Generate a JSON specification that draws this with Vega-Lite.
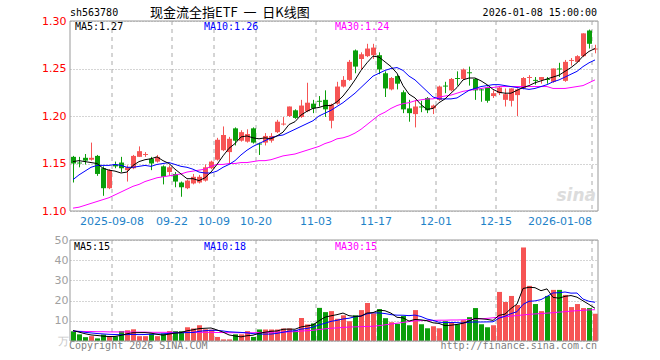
{
"$schema": "https://vega.github.io/schema/vega-lite/v6.json",
"width": 528,
"height": 320,
"autosize": {"type": "none"},
"padding": {"left": 70, "top": 21, "right": 62, "bottom": 19},
"background": "#ffffff",
"config": {"view": {"stroke": null}},
"datasets": {
"k": [
{"d":"2025-08-28","o":1.157,"h":1.158,"l":1.130,"c":1.150,"v":4.8,"m5":1.152,"m10":1.133,"m30":1.103,"vm5":5.2,"vm10":5.0,"vm30":4.8},
{"d":"2025-08-29","o":1.151,"h":1.157,"l":1.146,"c":1.150,"v":3.3,"m5":1.153,"m10":1.138,"m30":1.104,"vm5":4.4,"vm10":4.7,"vm30":4.8},
{"d":"2025-09-01","o":1.156,"h":1.160,"l":1.149,"c":1.153,"v":1.9,"m5":1.152,"m10":1.142,"m30":1.106,"vm5":3.6,"vm10":4.3,"vm30":4.7},
{"d":"2025-09-02","o":1.154,"h":1.172,"l":1.153,"c":1.156,"v":2.4,"m5":1.151,"m10":1.146,"m30":1.108,"vm5":3.0,"vm10":4.0,"vm30":4.7},
{"d":"2025-09-03","o":1.158,"h":1.159,"l":1.137,"c":1.139,"v":1.3,"m5":1.150,"m10":1.148,"m30":1.110,"vm5":2.74,"vm10":3.7,"vm30":4.6},
{"d":"2025-09-04","o":1.145,"h":1.147,"l":1.116,"c":1.124,"v":3.2,"m5":1.145,"m10":1.148,"m30":1.112,"vm5":2.42,"vm10":3.5,"vm30":4.6},
{"d":"2025-09-05","o":1.124,"h":1.144,"l":1.123,"c":1.143,"v":2.2,"m5":1.143,"m10":1.148,"m30":1.114,"vm5":2.2,"vm10":3.3,"vm30":4.5},
{"d":"2025-09-08","o":1.149,"h":1.152,"l":1.145,"c":1.147,"v":2.3,"m5":1.142,"m10":1.149,"m30":1.117,"vm5":2.28,"vm10":3.2,"vm30":4.5},
{"d":"2025-09-09","o":1.151,"h":1.157,"l":1.141,"c":1.145,"v":4.9,"m5":1.140,"m10":1.148,"m30":1.120,"vm5":2.78,"vm10":3.1,"vm30":4.5},
{"d":"2025-09-10","o":1.143,"h":1.148,"l":1.131,"c":1.146,"v":5.3,"m5":1.141,"m10":1.146,"m30":1.123,"vm5":3.58,"vm10":3.16,"vm30":4.5},
{"d":"2025-09-11","o":1.145,"h":1.159,"l":1.144,"c":1.158,"v":5.8,"m5":1.148,"m10":1.146,"m30":1.126,"vm5":4.1,"vm10":3.26,"vm30":4.4},
{"d":"2025-09-12","o":1.157,"h":1.168,"l":1.157,"c":1.163,"v":2.4,"m5":1.152,"m10":1.147,"m30":1.128,"vm5":4.14,"vm10":3.17,"vm30":4.4},
{"d":"2025-09-15","o":1.159,"h":1.162,"l":1.157,"c":1.160,"v":2.4,"m5":1.154,"m10":1.148,"m30":1.131,"vm5":4.16,"vm10":3.22,"vm30":4.4},
{"d":"2025-09-16","o":1.155,"h":1.157,"l":1.143,"c":1.150,"v":3.6,"m5":1.155,"m10":1.147,"m30":1.133,"vm5":3.9,"vm10":3.34,"vm30":4.3},
{"d":"2025-09-17","o":1.152,"h":1.159,"l":1.151,"c":1.157,"v":2.4,"m5":1.157,"m10":1.149,"m30":1.135,"vm5":3.32,"vm10":3.45,"vm30":4.3},
{"d":"2025-09-18","o":1.147,"h":1.148,"l":1.128,"c":1.136,"v":3.7,"m5":1.153,"m10":1.150,"m30":1.136,"vm5":2.9,"vm10":3.5,"vm30":4.3},
{"d":"2025-09-19","o":1.141,"h":1.148,"l":1.137,"c":1.146,"v":4.9,"m5":1.150,"m10":1.151,"m30":1.137,"vm5":3.4,"vm10":3.77,"vm30":4.3},
{"d":"2025-09-22","o":1.139,"h":1.141,"l":1.125,"c":1.131,"v":4.9,"m5":1.144,"m10":1.149,"m30":1.138,"vm5":3.9,"vm10":4.03,"vm30":4.3},
{"d":"2025-09-23","o":1.130,"h":1.131,"l":1.115,"c":1.125,"v":4.9,"m5":1.139,"m10":1.147,"m30":1.139,"vm5":4.16,"vm10":4.03,"vm30":4.3},
{"d":"2025-09-24","o":1.124,"h":1.133,"l":1.123,"c":1.132,"v":6.8,"m5":1.134,"m10":1.146,"m30":1.141,"vm5":5.04,"vm10":4.18,"vm30":4.3},
{"d":"2025-09-25","o":1.129,"h":1.139,"l":1.128,"c":1.136,"v":6.2,"m5":1.134,"m10":1.144,"m30":1.142,"vm5":5.54,"vm10":4.22,"vm30":4.3},
{"d":"2025-09-26","o":1.130,"h":1.138,"l":1.129,"c":1.136,"v":7.8,"m5":1.132,"m10":1.141,"m30":1.143,"vm5":6.12,"vm10":4.76,"vm30":4.3},
{"d":"2025-09-29","o":1.132,"h":1.149,"l":1.131,"c":1.146,"v":5.8,"m5":1.135,"m10":1.140,"m30":1.144,"vm5":6.3,"vm10":5.1,"vm30":4.3},
{"d":"2025-09-30","o":1.145,"h":1.153,"l":1.144,"c":1.152,"v":5.6,"m5":1.141,"m10":1.140,"m30":1.147,"vm5":6.44,"vm10":5.3,"vm30":4.3},
{"d":"2025-10-09","o":1.154,"h":1.177,"l":1.153,"c":1.175,"v":2.0,"m5":1.149,"m10":1.142,"m30":1.149,"vm5":5.48,"vm10":5.26,"vm30":4.2},
{"d":"2025-10-10","o":1.164,"h":1.189,"l":1.163,"c":1.180,"v":0.8,"m5":1.158,"m10":1.146,"m30":1.149,"vm5":4.4,"vm10":4.97,"vm30":4.2},
{"d":"2025-10-13","o":1.162,"h":1.178,"l":1.150,"c":1.176,"v":0.8,"m5":1.166,"m10":1.149,"m30":1.150,"vm5":3.0,"vm10":4.56,"vm30":4.1},
{"d":"2025-10-14","o":1.187,"h":1.188,"l":1.169,"c":1.174,"v":3.3,"m5":1.171,"m10":1.153,"m30":1.150,"vm5":2.5,"vm10":4.4,"vm30":4.1},
{"d":"2025-10-15","o":1.174,"h":1.185,"l":1.173,"c":1.183,"v":3.3,"m5":1.178,"m10":1.159,"m30":1.151,"vm5":2.04,"vm10":4.24,"vm30":4.1},
{"d":"2025-10-16","o":1.173,"h":1.186,"l":1.172,"c":1.181,"v":4.9,"m5":1.179,"m10":1.164,"m30":1.151,"vm5":2.62,"vm10":4.05,"vm30":4.1},
{"d":"2025-10-17","o":1.187,"h":1.188,"l":1.171,"c":1.172,"v":2.0,"m5":1.177,"m10":1.168,"m30":1.152,"vm5":2.86,"vm10":3.63,"vm30":4.1},
{"d":"2025-10-20","o":1.171,"h":1.172,"l":1.159,"c":1.170,"v":5.7,"m5":1.176,"m10":1.171,"m30":1.153,"vm5":3.84,"vm10":3.42,"vm30":4.2},
{"d":"2025-10-21","o":1.172,"h":1.182,"l":1.169,"c":1.179,"v":5.7,"m5":1.177,"m10":1.174,"m30":1.153,"vm5":4.32,"vm10":3.41,"vm30":4.2},
{"d":"2025-10-22","o":1.174,"h":1.182,"l":1.172,"c":1.179,"v":5.7,"m5":1.176,"m10":1.177,"m30":1.154,"vm5":4.8,"vm10":3.42,"vm30":4.3},
{"d":"2025-10-23","o":1.183,"h":1.196,"l":1.182,"c":1.194,"v":5.7,"m5":1.179,"m10":1.179,"m30":1.156,"vm5":4.96,"vm10":3.79,"vm30":4.4},
{"d":"2025-10-24","o":1.191,"h":1.199,"l":1.190,"c":1.192,"v":6.2,"m5":1.183,"m10":1.180,"m30":1.158,"vm5":5.8,"vm10":4.33,"vm30":4.4},
{"d":"2025-10-27","o":1.200,"h":1.210,"l":1.199,"c":1.210,"v":6.2,"m5":1.191,"m10":1.183,"m30":1.159,"vm5":5.9,"vm10":4.87,"vm30":4.5},
{"d":"2025-10-28","o":1.206,"h":1.207,"l":1.197,"c":1.198,"v":5.3,"m5":1.194,"m10":1.186,"m30":1.160,"vm5":5.82,"vm10":5.07,"vm30":4.6},
{"d":"2025-10-29","o":1.199,"h":1.217,"l":1.198,"c":1.211,"v":11.4,"m5":1.201,"m10":1.189,"m30":1.162,"vm5":6.96,"vm10":5.88,"vm30":4.9},
{"d":"2025-10-30","o":1.205,"h":1.235,"l":1.204,"c":1.214,"v":8.2,"m5":1.205,"m10":1.192,"m30":1.164,"vm5":7.46,"vm10":6.21,"vm30":5.1},
{"d":"2025-10-31","o":1.213,"h":1.217,"l":1.203,"c":1.208,"v":8.7,"m5":1.208,"m10":1.195,"m30":1.166,"vm5":7.96,"vm10":6.88,"vm30":5.3},
{"d":"2025-11-03","o":1.216,"h":1.221,"l":1.210,"c":1.215,"v":16.4,"m5":1.209,"m10":1.200,"m30":1.168,"vm5":10.0,"vm10":7.95,"vm30":5.7},
{"d":"2025-11-04","o":1.217,"h":1.227,"l":1.199,"c":1.207,"v":14.3,"m5":1.211,"m10":1.203,"m30":1.171,"vm5":11.8,"vm10":8.81,"vm30":6.0},
{"d":"2025-11-05","o":1.195,"h":1.213,"l":1.187,"c":1.212,"v":14.8,"m5":1.211,"m10":1.206,"m30":1.173,"vm5":12.48,"vm10":9.72,"vm30":6.3},
{"d":"2025-11-06","o":1.213,"h":1.236,"l":1.212,"c":1.231,"v":11.0,"m5":1.215,"m10":1.210,"m30":1.176,"vm5":13.04,"vm10":10.25,"vm30":6.5},
{"d":"2025-11-07","o":1.231,"h":1.242,"l":1.230,"c":1.238,"v":12.7,"m5":1.221,"m10":1.214,"m30":1.177,"vm5":13.84,"vm10":10.9,"vm30":6.7},
{"d":"2025-11-10","o":1.238,"h":1.259,"l":1.237,"c":1.257,"v":9.8,"m5":1.229,"m10":1.219,"m30":1.179,"vm5":12.52,"vm10":11.26,"vm30":6.9},
{"d":"2025-11-11","o":1.269,"h":1.270,"l":1.245,"c":1.252,"v":12.7,"m5":1.238,"m10":1.224,"m30":1.182,"vm5":12.2,"vm10":12.0,"vm30":7.0},
{"d":"2025-11-12","o":1.260,"h":1.267,"l":1.249,"c":1.265,"v":15.3,"m5":1.248,"m10":1.230,"m30":1.186,"vm5":12.3,"vm10":12.39,"vm30":7.1},
{"d":"2025-11-13","o":1.263,"h":1.276,"l":1.262,"c":1.271,"v":18.8,"m5":1.256,"m10":1.236,"m30":1.191,"vm5":13.86,"vm10":13.45,"vm30":7.2},
{"d":"2025-11-14","o":1.264,"h":1.276,"l":1.260,"c":1.272,"v":13.7,"m5":1.263,"m10":1.242,"m30":1.196,"vm5":14.06,"vm10":13.95,"vm30":7.3},
{"d":"2025-11-17","o":1.264,"h":1.267,"l":1.244,"c":1.249,"v":15.8,"m5":1.262,"m10":1.245,"m30":1.201,"vm5":15.26,"vm10":13.89,"vm30":7.6},
{"d":"2025-11-18","o":1.245,"h":1.247,"l":1.220,"c":1.229,"v":11.3,"m5":1.257,"m10":1.248,"m30":1.204,"vm5":14.98,"vm10":13.59,"vm30":8.0},
{"d":"2025-11-19","o":1.228,"h":1.241,"l":1.227,"c":1.240,"v":9.3,"m5":1.252,"m10":1.250,"m30":1.208,"vm5":13.78,"vm10":13.04,"vm30":8.4},
{"d":"2025-11-20","o":1.242,"h":1.243,"l":1.228,"c":1.234,"v":8.5,"m5":1.245,"m10":1.251,"m30":1.211,"vm5":11.72,"vm10":12.79,"vm30":8.8},
{"d":"2025-11-21","o":1.225,"h":1.227,"l":1.203,"c":1.207,"v":12.4,"m5":1.232,"m10":1.248,"m30":1.213,"vm5":11.46,"vm10":12.76,"vm30":9.2},
{"d":"2025-11-24","o":1.208,"h":1.217,"l":1.194,"c":1.203,"v":7.8,"m5":1.223,"m10":1.242,"m30":1.214,"vm5":9.86,"vm10":12.56,"vm30":9.6},
{"d":"2025-11-25","o":1.202,"h":1.217,"l":1.188,"c":1.210,"v":15.3,"m5":1.219,"m10":1.238,"m30":1.216,"vm5":10.66,"vm10":12.82,"vm30":10.0},
{"d":"2025-11-26","o":1.210,"h":1.216,"l":1.204,"c":1.209,"v":8.3,"m5":1.212,"m10":1.232,"m30":1.217,"vm5":10.46,"vm10":12.12,"vm30":10.1},
{"d":"2025-11-27","o":1.219,"h":1.220,"l":1.203,"c":1.206,"v":6.3,"m5":1.207,"m10":1.226,"m30":1.218,"vm5":10.02,"vm10":10.87,"vm30":10.2},
{"d":"2025-11-28","o":1.208,"h":1.212,"l":1.202,"c":1.211,"v":7.3,"m5":1.208,"m10":1.220,"m30":1.218,"vm5":9.0,"vm10":10.23,"vm30":10.2},
{"d":"2025-12-01","o":1.217,"h":1.232,"l":1.216,"c":1.231,"v":6.3,"m5":1.214,"m10":1.218,"m30":1.220,"vm5":8.7,"vm10":9.28,"vm30":10.3},
{"d":"2025-12-02","o":1.232,"h":1.236,"l":1.224,"c":1.231,"v":9.8,"m5":1.218,"m10":1.218,"m30":1.221,"vm5":7.6,"vm10":9.13,"vm30":10.3},
{"d":"2025-12-03","o":1.227,"h":1.240,"l":1.226,"c":1.239,"v":9.3,"m5":1.224,"m10":1.218,"m30":1.222,"vm5":7.8,"vm10":9.13,"vm30":10.4},
{"d":"2025-12-04","o":1.240,"h":1.247,"l":1.232,"c":1.239,"v":8.3,"m5":1.230,"m10":1.219,"m30":1.224,"vm5":8.2,"vm10":9.11,"vm30":10.4},
{"d":"2025-12-05","o":1.239,"h":1.250,"l":1.238,"c":1.249,"v":10.3,"m5":1.238,"m10":1.223,"m30":1.226,"vm5":8.8,"vm10":8.9,"vm30":10.5},
{"d":"2025-12-08","o":1.246,"h":1.252,"l":1.232,"c":1.245,"v":11.8,"m5":1.240,"m10":1.227,"m30":1.227,"vm5":9.9,"vm10":9.3,"vm30":10.6},
{"d":"2025-12-09","o":1.239,"h":1.240,"l":1.217,"c":1.227,"v":16.3,"m5":1.240,"m10":1.229,"m30":1.228,"vm5":11.2,"vm10":9.4,"vm30":10.8},
{"d":"2025-12-10","o":1.228,"h":1.229,"l":1.215,"c":1.227,"v":8.3,"m5":1.237,"m10":1.231,"m30":1.229,"vm5":11.0,"vm10":9.4,"vm30":11.0},
{"d":"2025-12-11","o":1.230,"h":1.231,"l":1.214,"c":1.216,"v":6.8,"m5":1.233,"m10":1.232,"m30":1.230,"vm5":10.7,"vm10":9.45,"vm30":11.2},
{"d":"2025-12-12","o":1.221,"h":1.227,"l":1.219,"c":1.224,"v":7.8,"m5":1.228,"m10":1.233,"m30":1.230,"vm5":10.2,"vm10":9.5,"vm30":11.5},
{"d":"2025-12-15","o":1.224,"h":1.231,"l":1.222,"c":1.230,"v":24.3,"m5":1.225,"m10":1.233,"m30":1.231,"vm5":12.7,"vm10":11.3,"vm30":11.8},
{"d":"2025-12-16","o":1.217,"h":1.229,"l":1.210,"c":1.223,"v":19.3,"m5":1.224,"m10":1.232,"m30":1.231,"vm5":13.3,"vm10":12.25,"vm30":12.0},
{"d":"2025-12-17","o":1.216,"h":1.229,"l":1.210,"c":1.229,"v":22.3,"m5":1.224,"m10":1.231,"m30":1.231,"vm5":16.1,"vm10":13.55,"vm30":12.3},
{"d":"2025-12-18","o":1.222,"h":1.229,"l":1.200,"c":1.228,"v":17.8,"m5":1.227,"m10":1.230,"m30":1.231,"vm5":18.3,"vm10":14.5,"vm30":12.6},
{"d":"2025-12-19","o":1.229,"h":1.241,"l":1.228,"c":1.240,"v":46.3,"m5":1.230,"m10":1.229,"m30":1.231,"vm5":26.0,"vm10":18.1,"vm30":12.9},
{"d":"2025-12-22","o":1.240,"h":1.243,"l":1.234,"c":1.241,"v":27.3,"m5":1.232,"m10":1.228,"m30":1.231,"vm5":26.6,"vm10":19.65,"vm30":13.2},
{"d":"2025-12-23","o":1.238,"h":1.241,"l":1.233,"c":1.237,"v":18.3,"m5":1.235,"m10":1.229,"m30":1.231,"vm5":26.4,"vm10":19.85,"vm30":13.4},
{"d":"2025-12-24","o":1.238,"h":1.241,"l":1.234,"c":1.241,"v":14.8,"m5":1.237,"m10":1.231,"m30":1.231,"vm5":24.9,"vm10":20.5,"vm30":13.6},
{"d":"2025-12-25","o":1.239,"h":1.241,"l":1.234,"c":1.238,"v":22.3,"m5":1.239,"m10":1.233,"m30":1.231,"vm5":25.8,"vm10":22.05,"vm30":13.8},
{"d":"2025-12-26","o":1.236,"h":1.250,"l":1.235,"c":1.250,"v":25.3,"m5":1.241,"m10":1.236,"m30":1.229,"vm5":21.6,"vm10":23.8,"vm30":14.0},
{"d":"2025-12-29","o":1.250,"h":1.256,"l":1.241,"c":1.249,"v":25.3,"m5":1.243,"m10":1.238,"m30":1.229,"vm5":21.2,"vm10":23.9,"vm30":14.3},
{"d":"2025-12-30","o":1.237,"h":1.259,"l":1.236,"c":1.257,"v":22.8,"m5":1.247,"m10":1.241,"m30":1.229,"vm5":22.1,"vm10":24.25,"vm30":14.5},
{"d":"2025-12-31","o":1.258,"h":1.261,"l":1.253,"c":1.259,"v":16.8,"m5":1.251,"m10":1.244,"m30":1.230,"vm5":22.5,"vm10":23.7,"vm30":14.8},
{"d":"2026-01-05","o":1.257,"h":1.264,"l":1.256,"c":1.263,"v":18.3,"m5":1.256,"m10":1.247,"m30":1.231,"vm5":21.7,"vm10":23.75,"vm30":15.0},
{"d":"2026-01-06","o":1.263,"h":1.287,"l":1.262,"c":1.287,"v":16.3,"m5":1.263,"m10":1.252,"m30":1.232,"vm5":19.9,"vm10":20.75,"vm30":15.2},
{"d":"2026-01-07","o":1.290,"h":1.291,"l":1.271,"c":1.276,"v":16.3,"m5":1.268,"m10":1.256,"m30":1.235,"vm5":18.1,"vm10":19.65,"vm30":15.4},
{"d":"2026-01-08","o":1.270,"h":1.275,"l":1.266,"c":1.271,"v":13.5,"m5":1.271,"m10":1.259,"m30":1.238,"vm5":16.2,"vm10":19.17,"vm30":15.5}
],
"g": [{"d":"2025-09-08","lab":"2025-09-08"},{"d":"2025-09-22","lab":"09-22"},{"d":"2025-10-09","lab":"10-09"},{"d":"2025-10-20","lab":"10-20"},{"d":"2025-11-03","lab":"11-03"},{"d":"2025-11-17","lab":"11-17"},{"d":"2025-12-01","lab":"12-01"},{"d":"2025-12-15","lab":"12-15"},{"d":"2026-01-08","lab":"2026-01-08"}],
"one": [{"n":1}]
},
"layer": [
{
"layer": [
{"data": {"name": "g"},
 "mark": {"type": "rule", "color": "#aaaaaa", "strokeDash": [4, 4], "strokeWidth": 1},
 "encoding": {
  "x": {"field": "d", "type": "ordinal", "bandPosition": 0, "axis": null},
  "y": {"datum": 1.3, "type": "quantitative"},
  "y2": {"datum": 1.1}}},
{"data": {"name": "k"},
 "mark": {"type": "rule", "strokeWidth": 1, "xOffset": 0.5},
 "encoding": {
  "x": {"field": "d", "type": "ordinal",
   "scale": {"type": "band", "paddingInner": 0, "paddingOuter": 0},
   "axis": null},
  "y": {"field": "l", "type": "quantitative",
   "scale": {"domain": [1.1, 1.3], "range": [190, 0], "zero": false, "nice": false},
   "axis": {"orient": "left", "title": null, "values": [1.1, 1.15, 1.2, 1.25, 1.3], "format": ".2f", "domain": false, "ticks": false,
    "labelColor": "#ff0000", "labelFont": "DejaVu Sans", "labelFontSize": 11, "labelPadding": 4, "labelFlush": false,
    "grid": true, "gridColor": "#aaaaaa", "gridDash": [1, 2]}},
  "y2": {"field": "h"},
  "color": {"condition": {"test": "datum.c >= datum.o", "value": "#f65454"}, "value": "#0a9e0a"}}},
{"data": {"name": "k"},
 "mark": {"type": "bar", "width": 5, "xOffset": 0.5},
 "encoding": {
  "x": {"field": "d", "type": "ordinal", "axis": null},
  "y": {"field": "o", "type": "quantitative"},
  "y2": {"field": "c"},
  "color": {"condition": {"test": "datum.c >= datum.o", "value": "#f65454"}, "value": "#0a9e0a"}}},
{"data": {"name": "k"},
 "mark": {"type": "line", "color": "#ff00ff", "strokeWidth": 1},
 "encoding": {"x": {"field": "d", "type": "ordinal", "axis": null}, "y": {"field": "m30", "type": "quantitative"}}},
{"data": {"name": "k"},
 "mark": {"type": "line", "color": "#0000ff", "strokeWidth": 1},
 "encoding": {"x": {"field": "d", "type": "ordinal", "axis": null}, "y": {"field": "m10", "type": "quantitative"}}},
{"data": {"name": "k"},
 "mark": {"type": "line", "color": "#000000", "strokeWidth": 1},
 "encoding": {"x": {"field": "d", "type": "ordinal", "axis": null}, "y": {"field": "m5", "type": "quantitative"}}},
{"data": {"name": "g"},
 "transform": [{"filter": "datum.d != '2026-01-08'"}],
 "mark": {"type": "text", "align": "center", "baseline": "middle", "font": "DejaVu Sans", "fontSize": 11, "color": "#1e82c8", "dy": 11},
 "encoding": {"x": {"field": "d", "type": "ordinal", "bandPosition": 0, "axis": null}, "y": {"datum": 1.1, "type": "quantitative"}, "text": {"field": "lab"}}},
{"data": {"name": "g"},
 "transform": [{"filter": "datum.d == '2026-01-08'"}],
 "mark": {"type": "text", "align": "right", "baseline": "middle", "font": "DejaVu Sans", "fontSize": 11, "color": "#1e82c8", "dy": 11},
 "encoding": {"x": {"field": "d", "type": "ordinal", "bandPosition": 0, "axis": null}, "y": {"datum": 1.1, "type": "quantitative"}, "text": {"field": "lab"}}},
{"data": {"name": "one"},
 "mark": {"type": "text", "text": "sina", "align": "right", "baseline": "middle", "font": "DejaVu Sans", "fontSize": 17, "fontStyle": "italic", "fontWeight": "bold", "color": "#dcdcdc", "dx": -2, "dy": -15},
 "encoding": {"x": {"datum": "2026-01-08", "type": "ordinal", "bandPosition": 1, "axis": null}, "y": {"datum": 1.1, "type": "quantitative"}}},
{"data": {"name": "one"},
 "mark": {"type": "text", "text": "sh563780", "align": "left", "baseline": "middle", "font": "DejaVu Sans Mono", "fontSize": 10, "color": "#000000", "dy": -8},
 "encoding": {"x": {"datum": "2025-08-28", "type": "ordinal", "bandPosition": 0, "axis": null}, "y": {"datum": 1.3, "type": "quantitative"}}},
{"data": {"name": "one"},
 "mark": {"type": "text", "text": "现金流全指ETF\u00a0\u00a0一\u00a0\u00a0日K线图", "align": "left", "baseline": "middle", "font": "Noto Sans CJK SC", "fontSize": 13, "color": "#000000", "dx": 80, "dy": -8},
 "encoding": {"x": {"datum": "2025-08-28", "type": "ordinal", "bandPosition": 0, "axis": null}, "y": {"datum": 1.3, "type": "quantitative"}}},
{"data": {"name": "one"},
 "mark": {"type": "text", "text": "2026-01-08 15:00:00", "align": "right", "baseline": "middle", "font": "DejaVu Sans Mono", "fontSize": 10, "color": "#000000", "dx": -1, "dy": -8},
 "encoding": {"x": {"datum": "2026-01-08", "type": "ordinal", "bandPosition": 1, "axis": null}, "y": {"datum": 1.3, "type": "quantitative"}}},
{"data": {"name": "one"},
 "mark": {"type": "text", "text": "MA5:1.27", "align": "left", "baseline": "middle", "font": "DejaVu Sans Mono", "fontSize": 10, "color": "#000000", "dx": 5, "dy": 5.5},
 "encoding": {"x": {"datum": "2025-08-28", "type": "ordinal", "bandPosition": 0, "axis": null}, "y": {"datum": 1.3, "type": "quantitative"}}},
{"data": {"name": "one"},
 "mark": {"type": "text", "text": "MA10:1.26", "align": "left", "baseline": "middle", "font": "DejaVu Sans Mono", "fontSize": 10, "color": "#0000ff", "dx": 134, "dy": 5.5},
 "encoding": {"x": {"datum": "2025-08-28", "type": "ordinal", "bandPosition": 0, "axis": null}, "y": {"datum": 1.3, "type": "quantitative"}}},
{"data": {"name": "one"},
 "mark": {"type": "text", "text": "MA30:1.24", "align": "left", "baseline": "middle", "font": "DejaVu Sans Mono", "fontSize": 10, "color": "#ff00ff", "dx": 265, "dy": 5.5},
 "encoding": {"x": {"datum": "2025-08-28", "type": "ordinal", "bandPosition": 0, "axis": null}, "y": {"datum": 1.3, "type": "quantitative"}}},
{"data": {"name": "one"},
 "mark": {"type": "rect", "fill": "transparent", "stroke": "#999999", "strokeWidth": 1},
 "encoding": {
  "x": {"datum": "2025-08-28", "type": "ordinal", "bandPosition": 0, "axis": null},
  "x2": {"datum": "2026-01-08", "bandPosition": 1},
  "y": {"datum": 1.3, "type": "quantitative"},
  "y2": {"datum": 1.1}}}
]
},
{
"layer": [
{"data": {"name": "g"},
 "mark": {"type": "rule", "color": "#aaaaaa", "strokeDash": [4, 4], "strokeWidth": 1},
 "encoding": {
  "x": {"field": "d", "type": "ordinal", "bandPosition": 0, "axis": null},
  "y": {"datum": 50, "type": "quantitative"},
  "y2": {"datum": 0}}},
{"data": {"name": "k"},
 "mark": {"type": "bar", "width": 5, "xOffset": 0.5},
 "encoding": {
  "x": {"field": "d", "type": "ordinal", "scale": {"type": "band", "paddingInner": 0, "paddingOuter": 0}, "axis": null},
  "y": {"field": "v", "type": "quantitative",
   "scale": {"domain": [0, 50], "range": [320, 219], "nice": false},
   "axis": {"orient": "left", "title": null, "values": [0, 10, 20, 30, 40, 50], "domain": false, "ticks": false,
    "labelExpr": "datum.value == 0 ? '万' : datum.label",
    "labelColor": {"condition": {"test": "datum.value == 0", "value": "#c8c8c8"}, "value": "#a0a0a0"},
    "labelFont": "DejaVu Sans", "labelFontSize": 11, "labelPadding": 2, "labelFlush": false,
    "grid": true, "gridColor": "#aaaaaa", "gridDash": [1, 2]}},
  "color": {"condition": {"test": "datum.c >= datum.o", "value": "#f65454"}, "value": "#0a9e0a"}}},
{"data": {"name": "k"},
 "mark": {"type": "line", "color": "#ff00ff", "strokeWidth": 1},
 "encoding": {"x": {"field": "d", "type": "ordinal", "axis": null}, "y": {"field": "vm30", "type": "quantitative"}}},
{"data": {"name": "k"},
 "mark": {"type": "line", "color": "#0000ff", "strokeWidth": 1},
 "encoding": {"x": {"field": "d", "type": "ordinal", "axis": null}, "y": {"field": "vm10", "type": "quantitative"}}},
{"data": {"name": "k"},
 "mark": {"type": "line", "color": "#000000", "strokeWidth": 1},
 "encoding": {"x": {"field": "d", "type": "ordinal", "axis": null}, "y": {"field": "vm5", "type": "quantitative"}}},
{"data": {"name": "one"},
 "mark": {"type": "text", "text": "MA5:15", "align": "left", "baseline": "middle", "font": "DejaVu Sans Mono", "fontSize": 10, "color": "#000000", "dx": 4, "dy": 6.5},
 "encoding": {"x": {"datum": "2025-08-28", "type": "ordinal", "bandPosition": 0, "axis": null}, "y": {"datum": 50, "type": "quantitative"}}},
{"data": {"name": "one"},
 "mark": {"type": "text", "text": "MA10:18", "align": "left", "baseline": "middle", "font": "DejaVu Sans Mono", "fontSize": 10, "color": "#0000ff", "dx": 134, "dy": 6.5},
 "encoding": {"x": {"datum": "2025-08-28", "type": "ordinal", "bandPosition": 0, "axis": null}, "y": {"datum": 50, "type": "quantitative"}}},
{"data": {"name": "one"},
 "mark": {"type": "text", "text": "MA30:15", "align": "left", "baseline": "middle", "font": "DejaVu Sans Mono", "fontSize": 10, "color": "#ff00ff", "dx": 265, "dy": 6.5},
 "encoding": {"x": {"datum": "2025-08-28", "type": "ordinal", "bandPosition": 0, "axis": null}, "y": {"datum": 50, "type": "quantitative"}}},
{"data": {"name": "one"},
 "mark": {"type": "text", "text": "Copyright 2026 SINA.COM", "align": "left", "baseline": "middle", "font": "DejaVu Sans Mono", "fontSize": 10, "color": "#808080", "dx": -1, "dy": 5},
 "encoding": {"x": {"datum": "2025-08-28", "type": "ordinal", "bandPosition": 0, "axis": null}, "y": {"datum": 0, "type": "quantitative"}}},
{"data": {"name": "one"},
 "mark": {"type": "text", "text": "http://finance.sina.com.cn", "align": "right", "baseline": "middle", "font": "DejaVu Sans Mono", "fontSize": 10, "color": "#808080", "dx": -1, "dy": 5},
 "encoding": {"x": {"datum": "2026-01-08", "type": "ordinal", "bandPosition": 1, "axis": null}, "y": {"datum": 0, "type": "quantitative"}}},
{"data": {"name": "one"},
 "mark": {"type": "rect", "fill": "transparent", "stroke": "#999999", "strokeWidth": 1},
 "encoding": {
  "x": {"datum": "2025-08-28", "type": "ordinal", "bandPosition": 0, "axis": null},
  "x2": {"datum": "2026-01-08", "bandPosition": 1},
  "y": {"datum": 50, "type": "quantitative"},
  "y2": {"datum": 0}}}
]
}
],
"resolve": {"scale": {"y": "independent"}}
}
